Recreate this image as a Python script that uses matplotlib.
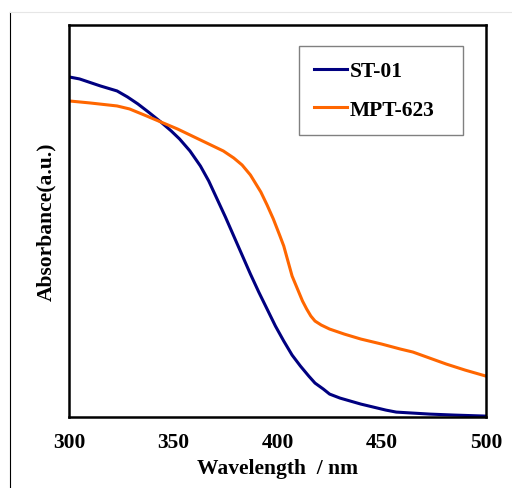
import matplotlib.pyplot as plt
from matplotlib.lines import Line2D

plt.rcParams['font.family'] = ['Liberation Serif', 'DejaVu Serif']
plt.rcParams['font.weight'] = 'bold'

# wavelength (nm) and absorbance (a.u.)
wl_st = [300, 305, 315, 323, 328, 333, 338, 344, 349, 353, 358, 363, 367, 371,
         375, 379, 383, 387, 391, 395, 399, 403, 407, 411, 415, 418, 422, 425,
         430, 435, 440, 446, 452, 457, 465, 473, 485, 500]
abs_st = [340, 338, 331, 326, 320, 313, 305, 295, 286, 278, 266, 251, 236, 218,
          200, 181, 162, 143, 125, 108, 91, 76, 62, 51, 41, 34, 28, 23,
          19, 16, 13, 10, 7, 5, 4, 3, 2, 1]
wl_mpt = [300, 310, 323, 329, 336, 344, 352, 360, 368, 374, 379, 383, 387, 392,
          395, 398, 401, 403, 405, 407, 410, 412, 414, 416, 418, 421, 425, 432,
          440, 450, 459, 465, 473, 481, 490, 500]
abs_mpt = [316, 314, 311, 308, 302, 295, 288, 280, 272, 266, 259, 252, 242, 225,
           212, 198, 182, 171, 156, 141, 126, 116, 108, 101, 96, 92, 88, 83,
           78, 73, 68, 65, 59, 53, 47, 41]

fig = plt.figure(figsize=(5.12, 4.89), dpi=100)
ax = fig.add_axes([0.135, 0.145, 0.814, 0.802])

ax.plot(wl_st, abs_st, color='#000080', lw=2.2, label='ST-01',
        solid_joinstyle='round')
ax.plot(wl_mpt, abs_mpt, color='#FF6600', lw=2.2, label='MPT-623',
        solid_joinstyle='round')

ax.set_xlim(300, 500)
ax.set_ylim(0, 392)
ax.set_xticks([300, 350, 400, 450, 500])
ax.set_yticks([])
ax.tick_params(axis='x', length=0, pad=11, labelsize=15.5)
for s in ax.spines.values():
    s.set_linewidth(1.8)

ax.set_xlabel('Wavelength  / nm', fontsize=15.5, fontweight='bold', labelpad=4)
ax.set_ylabel('Absorbance(a.u.)', fontsize=15.5, fontweight='bold', labelpad=9)

leg = ax.legend(loc='upper left', bbox_to_anchor=(0.552, 0.946, 0.393, 0),
                mode='expand', fontsize=15.5,
                handlelength=1.5, handletextpad=0.15, labelspacing=0.85,
                borderpad=0.7, borderaxespad=0, fancybox=False, framealpha=1)
leg.get_frame().set_edgecolor('#808080')
leg.get_frame().set_linewidth(1.0)

# thin page frame lines
fig.add_artist(Line2D([10 / 512, 10 / 512], [0, 1 - 13 / 489], color='black', lw=0.8))
fig.add_artist(Line2D([10 / 512, 1], [1 - 13 / 489, 1 - 13 / 489], color='#e6e6e6', lw=0.8))

fig.savefig('out.png', dpi=100)
